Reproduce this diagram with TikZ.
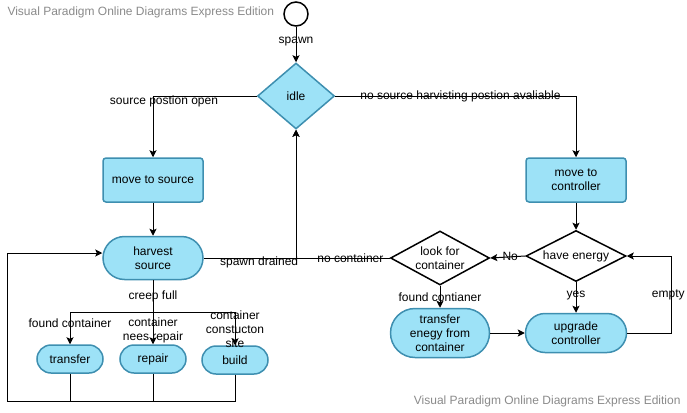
\documentclass[tikz,border=0pt]{standalone}
\usepackage{fontspec}
\setmainfont{Liberation Sans}
\usetikzlibrary{arrows.meta,shapes.geometric,shapes.misc,positioning}

\definecolor{stfill}{HTML}{9DE2F7}
\definecolor{stline}{HTML}{3E8FB0}
\definecolor{wmgray}{HTML}{8A8A8A}

\begin{document}
\begin{tikzpicture}[
	x=1pt, y=-1pt,
	font=\fontsize{12}{14}\selectfont,
	line width=1pt,
  > = {Stealth[length=7pt,width=7pt,inset=1.5pt]},
  state/.style = {draw=stline,fill=stfill,line width=1.5pt,rounded corners=3pt,minimum width=100pt,minimum height=44pt,align=center},
  stadium/.style = {rounded rectangle,draw=stline,fill=stfill,line width=1.5pt,inner sep=0pt,align=center},
  decision/.style = {diamond,aspect=2,inner sep=0pt,line width=1.5pt,align=center},
  lbl/.style = {inner sep=1pt,align=center},
  wmark/.style = {text=wmgray,inner sep=0pt}
  ]
	\useasboundingbox (0,0) rectangle (687,412);

	\node[wmark,anchor=west] (wmtop) at (7,12) {Visual Paradigm Online Diagrams Express Edition};
	\node[wmark,anchor=east] (wmbot) at (681,401) {Visual Paradigm Online Diagrams Express Edition};

	\node[draw,circle,minimum size=24pt,inner sep=0pt,line width=1.5pt] (start) at (296,14) {};
	\node[decision,draw=stline,fill=stfill,minimum width=77pt,minimum height=66pt] (idle) at (296,96) {idle};
	\node[state] (mvsrc) at (153,180) {move to source};
	\node[state] (mvctrl) at (576,180) {move to\\controller};
	\node[stadium,minimum width=100pt,minimum height=43pt] (harvest) at (153,258) {harvest\\source};
	\node[decision,draw,fill=white,minimum width=100pt,minimum height=51pt] (energy) at (576,256) {have energy};
	\node[decision,draw,fill=white,minimum width=99pt,minimum height=54pt] (look) at (440,258) {look for\\container};
	\node[stadium,minimum width=99pt,minimum height=49pt] (drain) at (440,333) {transfer\\enegy from\\container};
	\node[stadium,minimum width=101pt,minimum height=39pt] (upgrade) at (576,333) {upgrade\\controller};
	\node[stadium,minimum width=66pt,minimum height=28pt] (transfer) at (70,359) {transfer};
	\node[stadium,minimum width=66pt,minimum height=28pt] (repair) at (153,359) {repair};
	\node[stadium,minimum width=66pt,minimum height=28pt] (build) at (235,360) {build};

	\draw[->] (start) -- node[lbl,pos=0.42] {spawn} (idle);
	\draw[->] (idle.west) -| node[lbl,pos=0.5,xshift=11pt,yshift=-5pt] {source postion open} (mvsrc.north);
	\draw[->] (idle.east) -| node[lbl,pos=0.26] {no source harvisting postion avaliable} (mvctrl.north);
	\draw[->] (mvsrc) -- (harvest);
	\draw[->] (mvctrl) -- (energy);
	\draw[->] (harvest.east) -| node[lbl,pos=0.3,yshift=-4pt] {spawn drained} (idle.south);
	\draw[->] (look.west) -| node[lbl,pos=0.21] {no container} (idle.south);
	\draw[->] (energy.west) -- node[lbl,pos=0.43] {No} (look.east);
	\draw[->] (energy.south) -- node[lbl,pos=0.45] {yes} (upgrade.north);
	\draw[->] (look.south) -- node[lbl] {found contianer} (drain.north);
	\draw[->] (drain.east) -- (upgrade.west);
	\draw[->] (upgrade.east) -- ++(44,0) |- node[lbl,pos=0.25,xshift=-3pt] {empty} (energy.east);

	% creep full: fan out to the three jobs
	\coordinate (split) at (153,312);
	\draw (harvest.south) -- node[lbl] {creep full} (split);
	\draw[->] (split) -| node[lbl,pos=0.68] {found container} (transfer.north);
	\draw[->] (split) -- node[lbl,pos=0.58] {container\\nees repair} (repair.north);
	\draw[->] (split) -| node[lbl,pos=0.76] {container\\constucton\\site} (build.north);

	% back to harvesting
	\coordinate (loopbl) at (7,401);
	\coordinate (looptl) at (7,253);
	\draw (transfer.south) -- (transfer.south |- loopbl);
	\draw (repair.south) -- (repair.south |- loopbl);
	\draw[->] (build.south) |- (loopbl) -- (looptl) -- (harvest.west |- looptl);

\end{tikzpicture}
\end{document}
